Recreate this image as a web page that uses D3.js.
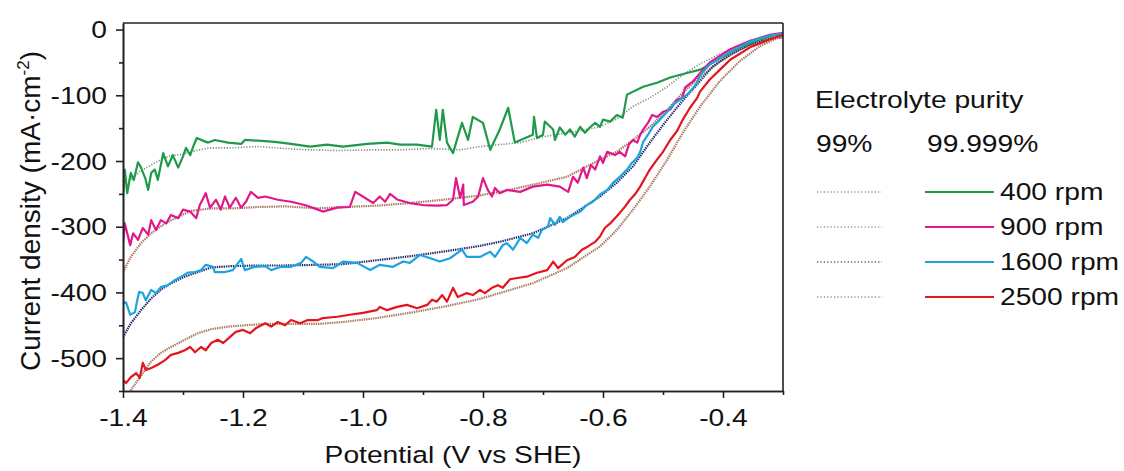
<!DOCTYPE html>
<html>
<head>
<meta charset="utf-8">
<script src="https://cdn.jsdelivr.net/npm/d3@7"></script>
<style>
  body { margin: 0; background: #fff; }
  svg { display: block; font-family: "Liberation Sans", Arial, sans-serif; }
</style>
</head>
<body>
<div id="chart"></div>
<script>
// ---------- data (potential in V vs SHE, current density in mA/cm2) ----------
const potentialTicks = [-1.4, -1.2, -1.0, -0.8, -0.6, -0.4];
const potentialMinor = [-1.3, -1.1, -0.9, -0.7, -0.5, -0.3];
const currentTicks = [0, -100, -200, -300, -400, -500];
const currentMinor = [-50, -150, -250, -350, -450, -550];
const rpmLabels = ["400 rpm", "900 rpm", "1600 rpm", "2500 rpm"];
const purityLabels = ["99%", "99.999%"];

// 99.999% electrolyte (solid, noisy)
const pure400 = [[-1.400,-254],[-1.397,-213],[-1.393,-249],[-1.387,-218],[-1.382,-229],[-1.375,-202],[-1.370,-210],[-1.363,-226],[-1.358,-244],[-1.353,-218],[-1.347,-213],[-1.342,-229],[-1.333,-188],[-1.325,-208],[-1.317,-191],[-1.308,-210],[-1.300,-193],[-1.295,-180],[-1.288,-191],[-1.283,-178],[-1.277,-165],[-1.267,-169],[-1.258,-172],[-1.247,-168],[-1.225,-172],[-1.203,-174],[-1.197,-168],[-1.175,-169],[-1.147,-171],[-1.120,-174],[-1.097,-177],[-1.088,-178],[-1.060,-175],[-1.033,-178],[-0.993,-174],[-0.960,-172],[-0.938,-175],[-0.910,-175],[-0.885,-178],[-0.878,-122],[-0.872,-168],[-0.867,-122],[-0.860,-172],[-0.850,-188],[-0.835,-142],[-0.825,-168],[-0.817,-133],[-0.800,-142],[-0.788,-183],[-0.772,-152],[-0.758,-119],[-0.747,-172],[-0.717,-160],[-0.715,-133],[-0.710,-165],[-0.700,-160],[-0.697,-140],[-0.683,-152],[-0.680,-168],[-0.672,-149],[-0.663,-160],[-0.655,-152],[-0.647,-163],[-0.638,-148],[-0.630,-157],[-0.622,-149],[-0.613,-142],[-0.605,-148],[-0.600,-137],[-0.588,-140],[-0.577,-130],[-0.567,-134],[-0.560,-99],[-0.533,-87],[-0.510,-81],[-0.488,-73],[-0.460,-66],[-0.438,-61],[-0.422,-53],[-0.388,-35],[-0.355,-20],[-0.322,-10],[-0.300,-6]];

const pure900 = [[-1.400,-325],[-1.397,-295],[-1.388,-328],[-1.383,-310],[-1.375,-320],[-1.367,-302],[-1.358,-312],[-1.353,-290],[-1.345,-305],[-1.337,-290],[-1.328,-295],[-1.320,-282],[-1.308,-287],[-1.300,-274],[-1.288,-277],[-1.278,-287],[-1.272,-267],[-1.262,-249],[-1.255,-271],[-1.245,-259],[-1.237,-274],[-1.230,-254],[-1.222,-271],[-1.212,-256],[-1.203,-271],[-1.195,-262],[-1.187,-247],[-1.175,-256],[-1.163,-254],[-1.142,-259],[-1.120,-262],[-1.097,-267],[-1.075,-274],[-1.067,-277],[-1.043,-271],[-1.022,-270],[-1.013,-247],[-0.997,-256],[-0.983,-264],[-0.972,-254],[-0.963,-262],[-0.955,-250],[-0.942,-259],[-0.922,-264],[-0.900,-267],[-0.877,-268],[-0.860,-267],[-0.850,-259],[-0.845,-226],[-0.838,-256],[-0.833,-236],[-0.832,-267],[-0.817,-262],[-0.808,-254],[-0.800,-226],[-0.792,-244],[-0.785,-254],[-0.780,-241],[-0.772,-249],[-0.760,-244],[-0.738,-247],[-0.717,-239],[-0.693,-236],[-0.672,-239],[-0.658,-247],[-0.650,-224],[-0.642,-233],[-0.633,-210],[-0.627,-226],[-0.620,-206],[-0.613,-213],[-0.605,-193],[-0.600,-203],[-0.593,-186],[-0.580,-191],[-0.572,-186],[-0.563,-193],[-0.557,-175],[-0.550,-168],[-0.543,-172],[-0.538,-160],[-0.533,-152],[-0.525,-142],[-0.518,-130],[-0.510,-133],[-0.500,-125],[-0.488,-122],[-0.477,-107],[-0.468,-104],[-0.463,-88],[-0.450,-79],[-0.438,-66],[-0.422,-50],[-0.388,-30],[-0.355,-17],[-0.322,-8],[-0.300,-5]];

const pure1600 = [[-1.400,-416],[-1.395,-415],[-1.388,-434],[-1.380,-430],[-1.377,-415],[-1.373,-399],[-1.367,-401],[-1.362,-412],[-1.353,-396],[-1.345,-401],[-1.337,-392],[-1.325,-389],[-1.313,-381],[-1.303,-376],[-1.292,-370],[-1.280,-369],[-1.270,-366],[-1.262,-358],[-1.250,-361],[-1.247,-369],[-1.230,-369],[-1.217,-366],[-1.203,-349],[-1.197,-366],[-1.180,-361],[-1.163,-360],[-1.153,-366],[-1.137,-361],[-1.120,-361],[-1.103,-355],[-1.095,-346],[-1.083,-353],[-1.072,-361],[-1.050,-363],[-1.033,-353],[-1.010,-355],[-0.988,-366],[-0.972,-358],[-0.950,-361],[-0.933,-353],[-0.922,-355],[-0.905,-343],[-0.888,-348],[-0.872,-353],[-0.855,-348],[-0.835,-335],[-0.827,-346],[-0.805,-346],[-0.788,-338],[-0.780,-346],[-0.767,-328],[-0.760,-325],[-0.750,-335],[-0.738,-317],[-0.727,-325],[-0.717,-312],[-0.708,-317],[-0.702,-305],[-0.692,-300],[-0.688,-287],[-0.680,-297],[-0.672,-285],[-0.667,-293],[-0.655,-285],[-0.638,-277],[-0.627,-267],[-0.617,-262],[-0.605,-251],[-0.593,-244],[-0.583,-233],[-0.572,-224],[-0.560,-213],[-0.552,-203],[-0.543,-195],[-0.538,-186],[-0.533,-171],[-0.525,-160],[-0.517,-148],[-0.505,-137],[-0.493,-125],[-0.483,-114],[-0.472,-107],[-0.460,-99],[-0.452,-91],[-0.443,-81],[-0.438,-69],[-0.422,-53],[-0.388,-34],[-0.355,-18],[-0.322,-9],[-0.300,-6]];

const pure2500 = [[-1.400,-533],[-1.395,-538],[-1.387,-529],[-1.378,-523],[-1.372,-530],[-1.367,-507],[-1.362,-518],[-1.353,-515],[-1.342,-510],[-1.330,-503],[-1.320,-495],[-1.308,-492],[-1.297,-488],[-1.288,-483],[-1.280,-491],[-1.270,-483],[-1.262,-488],[-1.253,-477],[-1.242,-472],[-1.233,-477],[-1.222,-468],[-1.212,-460],[-1.200,-457],[-1.188,-462],[-1.178,-454],[-1.163,-447],[-1.153,-452],[-1.142,-445],[-1.130,-450],[-1.120,-442],[-1.105,-447],[-1.092,-442],[-1.075,-442],[-1.067,-439],[-1.043,-437],[-1.022,-434],[-1.000,-431],[-0.977,-427],[-0.972,-422],[-0.960,-427],[-0.943,-422],[-0.927,-419],[-0.910,-424],[-0.893,-419],[-0.885,-411],[-0.877,-414],[-0.868,-404],[-0.860,-414],[-0.850,-393],[-0.842,-407],[-0.827,-401],[-0.817,-404],[-0.805,-396],[-0.797,-401],[-0.785,-393],[-0.775,-389],[-0.767,-393],[-0.755,-380],[-0.743,-378],[-0.727,-376],[-0.710,-370],[-0.693,-366],[-0.683,-353],[-0.675,-363],[-0.660,-351],[-0.647,-346],[-0.635,-335],[-0.625,-330],[-0.613,-323],[-0.605,-315],[-0.597,-302],[-0.588,-295],[-0.580,-287],[-0.572,-279],[-0.563,-269],[-0.555,-259],[-0.547,-251],[-0.538,-239],[-0.530,-226],[-0.522,-213],[-0.510,-198],[-0.500,-186],[-0.488,-168],[-0.477,-155],[-0.467,-137],[-0.455,-119],[-0.443,-104],[-0.438,-94],[-0.422,-76],[-0.405,-61],[-0.388,-46],[-0.355,-27],[-0.322,-15],[-0.300,-8]];

// 99% electrolyte (dotted, smoother)
const std400 = [[-1.400,-232],[-1.388,-229],[-1.372,-216],[-1.353,-206],[-1.337,-198],[-1.320,-192],[-1.303,-190],[-1.288,-186],[-1.272,-183],[-1.255,-180],[-1.222,-180],[-1.175,-178],[-1.130,-181],[-1.092,-183],[-1.043,-184],[-0.988,-183],[-0.938,-183],[-0.888,-181],[-0.838,-183],[-0.805,-178],[-0.772,-175],[-0.738,-172],[-0.700,-163],[-0.650,-156],[-0.605,-148],[-0.577,-136],[-0.550,-117],[-0.522,-104],[-0.493,-87],[-0.467,-69],[-0.438,-52],[-0.405,-37],[-0.372,-25],[-0.338,-14],[-0.300,-7]];

const std900 = [[-1.400,-369],[-1.387,-346],[-1.370,-325],[-1.353,-310],[-1.330,-295],[-1.308,-285],[-1.287,-276],[-1.253,-272],[-1.213,-272],[-1.175,-270],[-1.130,-269],[-1.075,-272],[-1.033,-270],[-0.977,-268],[-0.922,-264],[-0.867,-259],[-0.810,-253],[-0.772,-247],[-0.717,-236],[-0.660,-224],[-0.605,-198],[-0.577,-186],[-0.550,-168],[-0.522,-148],[-0.493,-122],[-0.467,-96],[-0.438,-72],[-0.405,-49],[-0.372,-30],[-0.338,-17],[-0.300,-6]];

const std1600 = [[-1.400,-468],[-1.387,-447],[-1.370,-427],[-1.353,-409],[-1.337,-396],[-1.320,-386],[-1.297,-376],[-1.275,-369],[-1.253,-362],[-1.220,-360],[-1.175,-359],[-1.130,-359],[-1.075,-358],[-1.033,-357],[-0.977,-351],[-0.922,-345],[-0.867,-338],[-0.810,-330],[-0.772,-323],[-0.717,-310],[-0.660,-287],[-0.605,-254],[-0.577,-233],[-0.550,-208],[-0.522,-172],[-0.493,-137],[-0.467,-108],[-0.438,-78],[-0.417,-56],[-0.388,-38],[-0.355,-23],[-0.322,-14],[-0.300,-12]];

const std2500 = [[-1.392,-555],[-1.387,-549],[-1.375,-533],[-1.363,-518],[-1.353,-505],[-1.337,-492],[-1.320,-483],[-1.297,-472],[-1.275,-462],[-1.253,-456],[-1.225,-452],[-1.197,-450],[-1.163,-448],[-1.130,-448],[-1.075,-448],[-1.033,-445],[-0.977,-439],[-0.922,-431],[-0.867,-422],[-0.810,-411],[-0.772,-401],[-0.717,-386],[-0.660,-363],[-0.605,-330],[-0.577,-305],[-0.550,-274],[-0.522,-239],[-0.493,-198],[-0.467,-157],[-0.438,-117],[-0.405,-78],[-0.372,-48],[-0.338,-25],[-0.300,-9]];

const solidColors = ["#1f9a4a", "#e0188c", "#1ea3e0", "#e3161e"];
const dottedColors = ["#7d8c7a", "#a8785a", "#1f2c6c", "#a8785a"];
const legendDotColors = ["#8d948a", "#b08a80", "#4e5575", "#b08272"];

// ---------- layout ----------
const svgWidth = 1124, svgHeight = 471;
const margin = {top: 23, left: 123, right: 341, bottom: 80};
const width = svgWidth - margin.left - margin.right;   // 660
const height = svgHeight - margin.top - margin.bottom; // 368
const stretch = 1.2; // text in the figure is a bit wide

const svg = d3.select("#chart").append("svg")
  .attr("width", svgWidth)
  .attr("height", svgHeight);

const g = svg.append("g").attr("transform", `translate(${margin.left},${margin.top})`);

const x = d3.scaleLinear().domain([-1.4, -0.3]).range([0, width]);
const y = d3.scaleLinear().domain([-550, 10]).range([height, 0]);

svg.append("defs").append("clipPath").attr("id", "plotclip")
  .append("rect").attr("width", width).attr("height", height);

// ---------- curves ----------
const line = d3.line().x(d => x(d[0])).y(d => y(d[1]));
const stdSeries = [std400, std900, std1600, std2500];
const pureSeries = [pure400, pure900, pure1600, pure2500];

const curves = g.append("g").attr("clip-path", "url(#plotclip)");
stdSeries.forEach((s, i) => {
  curves.append("path").datum(s)
    .attr("d", line)
    .attr("fill", "none")
    .attr("stroke", dottedColors[i])
    .attr("stroke-width", i === 0 ? 1.6 : 2.2)
    .attr("stroke-dasharray", i === 0 ? "1.2,1.6" : "1.4,0.9");
});
pureSeries.forEach((s, i) => {
  curves.append("path").datum(s)
    .attr("d", line)
    .attr("fill", "none")
    .attr("stroke", solidColors[i])
    .attr("stroke-width", 2.2)
    .attr("stroke-linejoin", "round");
});

// ---------- axes ----------
function styleAxis(sel) {
  sel.select(".domain").attr("stroke", "#222").attr("stroke-width", 1.6);
  sel.selectAll(".tick line").attr("stroke", "#222").attr("stroke-width", 1.6);
}

const xAxis = g.append("g").attr("transform", `translate(0,${height})`)
  .call(d3.axisBottom(x).tickValues(potentialTicks).tickSize(7).tickSizeOuter(0)
    .tickFormat(d => d.toFixed(1)));
styleAxis(xAxis);
xAxis.selectAll(".tick text")
  .attr("y", null).attr("dy", null)
  .attr("transform", `translate(0,35) scale(${stretch},1)`)
  .attr("fill", "#111").attr("font-size", 23.5);

g.append("g").attr("transform", `translate(0,${height})`)
  .call(d3.axisBottom(x).tickValues(potentialMinor).tickSize(4).tickSizeOuter(0).tickFormat(""))
  .call(styleAxis);

const yAxis = g.append("g")
  .call(d3.axisLeft(y).tickValues(currentTicks).tickSize(7).tickSizeOuter(0).tickFormat(d => String(d)));
styleAxis(yAxis);
yAxis.selectAll(".tick text")
  .attr("x", null).attr("dy", "0.35em")
  .attr("transform", `translate(-16,0) scale(${stretch},1)`)
  .attr("fill", "#111").attr("font-size", 23.5);

g.append("g")
  .call(d3.axisLeft(y).tickValues(currentMinor).tickSize(4).tickSizeOuter(0).tickFormat(""))
  .call(styleAxis);

// box frame (top and right)
g.append("line").attr("x1", 0).attr("x2", width).attr("y1", 0).attr("y2", 0)
  .attr("stroke", "#222").attr("stroke-width", 1.6);
g.append("line").attr("x1", width).attr("x2", width).attr("y1", 0).attr("y2", height)
  .attr("stroke", "#222").attr("stroke-width", 1.6);

// axis titles
function addText(parent, txt, px, py, size, anchor) {
  return parent.append("text")
    .attr("transform", `translate(${px},${py}) scale(${stretch},1)`)
    .attr("text-anchor", anchor || "start")
    .attr("font-size", size)
    .attr("fill", "#111")
    .text(txt);
}

addText(svg, "Potential (V vs SHE)", margin.left + width / 2, 463, 23.5, "middle");

const yTitle = svg.append("text")
  .attr("transform", `translate(40,211) rotate(-90)`)
  .attr("text-anchor", "middle")
  .attr("font-size", 28)
  .attr("fill", "#111");
yTitle.append("tspan").text("Current density (mA\u00b7cm");
yTitle.append("tspan").attr("font-size", 17).attr("dy", -11).text("-2");
yTitle.append("tspan").attr("dy", 11).text(")");

// ---------- legend ----------
const legend = svg.append("g");
addText(legend, "Electrolyte purity", 815, 108, 23.5);
addText(legend, purityLabels[0], 816, 152, 23.5);
addText(legend, purityLabels[1], 927, 152, 23.5);

rpmLabels.forEach((lab, i) => {
  const cy = 192 + i * 35;
  legend.append("line")
    .attr("x1", 817).attr("x2", 882).attr("y1", cy).attr("y2", cy)
    .attr("stroke", legendDotColors[i]).attr("stroke-width", 1.3)
    .attr("stroke-dasharray", "1.2,2.2");
  legend.append("line")
    .attr("x1", 925).attr("x2", 994).attr("y1", cy).attr("y2", cy)
    .attr("stroke", solidColors[i]).attr("stroke-width", 2.2);
  addText(legend, lab, 1000, cy + 8, 23.5);
});
</script>
</body>
</html>
